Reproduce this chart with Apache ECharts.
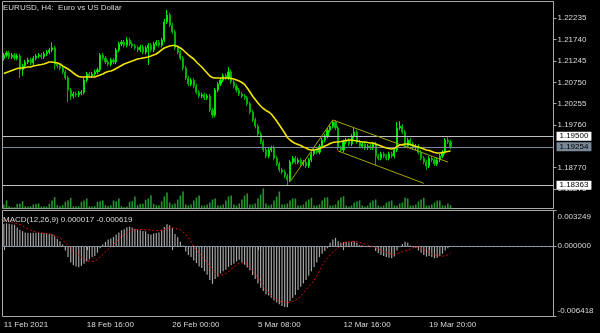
<!DOCTYPE html>
<html><head><meta charset="utf-8">
<script src="https://cdn.jsdelivr.net/npm/echarts@6/dist/echarts.min.js"></script>
<style>html,body{margin:0;padding:0;background:#000;}#c{width:600px;height:333px;}</style>
</head><body><div id="c"></div>
<script>
const symbolTitle = 'EURUSD, H4:  Euro vs US Dollar';
const macdTitle = 'MACD(12,26,9) 0.000017 -0.000619';
const xTickIndex = [0, 31, 63, 95, 127, 159];
const xTickLabels = ['11 Feb 2021', '18 Feb 16:00', '26 Feb 00:00', '5 Mar 08:00', '12 Mar 16:00', '19 Mar 20:00'];
const priceTicks = [1.18275, 1.18770, 1.19760, 1.20255, 1.20750, 1.21245, 1.21740, 1.22235];
const macdTicks = [-0.006418, 0, 0.003249];
const hLines = [1.19500, 1.18363];
const bidPrice = 1.19254;
const trendLines = [[107, 1.18445, 123, 1.19876], [123, 1.19876, 166, 1.18902], [125, 1.19157, 157, 1.18408]];

const opens = [
1.2130,1.2138,1.2143,1.2134,1.2138,1.2131,1.2136,1.2104,1.2113,1.2122,
1.2127,1.2120,1.2131,1.2136,1.2138,1.2134,1.2141,1.2145,1.2150,1.2155,
1.2117,1.2113,1.2108,1.2099,1.2085,1.2057,1.2043,1.2048,1.2046,1.2050,
1.2052,1.2080,1.2094,1.2090,1.2094,1.2099,1.2104,1.2138,1.2131,1.2122,
1.2117,1.2127,1.2122,1.2150,1.2164,1.2168,1.2161,1.2173,1.2164,1.2159,
1.2155,1.2150,1.2157,1.2145,1.2155,1.2161,1.2150,1.2164,1.2168,1.2161,
1.2173,1.2215,1.2231,1.2208,1.2192,1.2155,1.2145,1.2131,1.2108,1.2085,
1.2071,1.2080,1.2066,1.2052,1.2043,1.2046,1.2039,1.2043,1.2011,1.1999,
1.2057,1.2071,1.2080,1.2090,1.2085,1.2099,1.2076,1.2066,1.2057,1.2048,
1.2043,1.2039,1.2025,1.2006,1.1988,1.1973,1.1955,1.1937,1.1918,1.1904,
1.1918,1.1923,1.1899,1.1886,1.1872,1.1867,1.1858,1.1849,1.1890,1.1899,
1.1890,1.1895,1.1886,1.1890,1.1881,1.1895,1.1909,1.1918,1.1913,1.1927,
1.1941,1.1950,1.1964,1.1973,1.1983,1.1969,1.1923,1.1918,1.1937,1.1941,
1.1932,1.1950,1.1960,1.1937,1.1927,1.1932,1.1923,1.1927,1.1923,1.1932,
1.1904,1.1899,1.1909,1.1904,1.1899,1.1909,1.1904,1.1918,1.1969,1.1973,
1.1960,1.1927,1.1941,1.1932,1.1923,1.1927,1.1913,1.1899,1.1890,1.1881,
1.1899,1.1895,1.1886,1.1895,1.1904,1.1913,1.1941,1.1937];
const closes = [
1.2138,1.2143,1.2134,1.2138,1.2131,1.2136,1.2104,1.2113,1.2122,1.2127,
1.2120,1.2131,1.2136,1.2138,1.2134,1.2141,1.2145,1.2150,1.2155,1.2117,
1.2113,1.2108,1.2099,1.2085,1.2057,1.2043,1.2048,1.2046,1.2050,1.2052,
1.2080,1.2094,1.2090,1.2094,1.2099,1.2104,1.2138,1.2131,1.2122,1.2117,
1.2127,1.2122,1.2150,1.2164,1.2168,1.2161,1.2173,1.2164,1.2159,1.2155,
1.2150,1.2157,1.2145,1.2155,1.2161,1.2150,1.2164,1.2168,1.2161,1.2173,
1.2215,1.2231,1.2208,1.2192,1.2155,1.2145,1.2131,1.2108,1.2085,1.2071,
1.2080,1.2066,1.2052,1.2043,1.2046,1.2039,1.2043,1.2011,1.1999,1.2057,
1.2071,1.2080,1.2090,1.2085,1.2099,1.2076,1.2066,1.2057,1.2048,1.2043,
1.2039,1.2025,1.2006,1.1988,1.1973,1.1955,1.1937,1.1918,1.1904,1.1918,
1.1923,1.1899,1.1886,1.1872,1.1867,1.1858,1.1849,1.1890,1.1899,1.1890,
1.1895,1.1886,1.1890,1.1881,1.1895,1.1909,1.1918,1.1913,1.1927,1.1941,
1.1950,1.1964,1.1973,1.1983,1.1969,1.1923,1.1918,1.1937,1.1941,1.1932,
1.1950,1.1960,1.1937,1.1927,1.1932,1.1923,1.1927,1.1923,1.1932,1.1904,
1.1899,1.1909,1.1904,1.1899,1.1909,1.1904,1.1918,1.1969,1.1973,1.1960,
1.1927,1.1941,1.1932,1.1923,1.1927,1.1913,1.1899,1.1890,1.1881,1.1899,
1.1895,1.1886,1.1895,1.1904,1.1913,1.1941,1.1937,1.19254];
const lows = [
1.2125,1.2133,1.2129,1.2129,1.2126,1.2126,1.2085,1.2090,1.2108,1.2117,
1.2115,1.2115,1.2126,1.2131,1.2129,1.2129,1.2136,1.2140,1.2145,1.2104,
1.2108,1.2103,1.2094,1.2080,1.2029,1.2034,1.2038,1.2041,1.2041,1.2045,
1.2047,1.2075,1.2085,1.2085,1.2089,1.2094,1.2099,1.2126,1.2117,1.2112,
1.2112,1.2117,1.2117,1.2145,1.2159,1.2156,1.2156,1.2159,1.2154,1.2150,
1.2145,1.2145,1.2140,1.2140,1.2115,1.2145,1.2145,1.2159,1.2156,1.2156,
1.2168,1.2210,1.2203,1.2187,1.2150,1.2140,1.2126,1.2103,1.2080,1.2066,
1.2066,1.2061,1.2047,1.2038,1.2038,1.2034,1.2034,1.2006,1.1992,1.1994,
1.2052,1.2066,1.2075,1.2080,1.2080,1.2071,1.2061,1.2052,1.2043,1.2038,
1.2034,1.2020,1.2001,1.1983,1.1968,1.1950,1.1932,1.1913,1.1899,1.1899,
1.1913,1.1894,1.1881,1.1867,1.1862,1.1853,1.1836,1.1844,1.1885,1.1885,
1.1885,1.1881,1.1881,1.1876,1.1876,1.1890,1.1904,1.1908,1.1908,1.1922,
1.1936,1.1945,1.1959,1.1968,1.1964,1.1918,1.1913,1.1913,1.1932,1.1927,
1.1927,1.1945,1.1932,1.1922,1.1922,1.1918,1.1918,1.1918,1.1918,1.1883,
1.1894,1.1894,1.1899,1.1894,1.1894,1.1899,1.1899,1.1913,1.1964,1.1955,
1.1922,1.1922,1.1927,1.1918,1.1918,1.1908,1.1894,1.1885,1.1872,1.1876,
1.1890,1.1881,1.1881,1.1890,1.1899,1.1908,1.1932,1.1920];
const highs = [
1.2143,1.2148,1.2148,1.2143,1.2143,1.2141,1.2141,1.2118,1.2127,1.2132,
1.2132,1.2136,1.2141,1.2143,1.2143,1.2146,1.2150,1.2155,1.2168,1.2160,
1.2122,1.2118,1.2113,1.2104,1.2090,1.2062,1.2053,1.2053,1.2055,1.2057,
1.2085,1.2099,1.2099,1.2099,1.2104,1.2109,1.2143,1.2143,1.2136,1.2127,
1.2132,1.2132,1.2155,1.2169,1.2173,1.2173,1.2180,1.2178,1.2169,1.2164,
1.2160,1.2162,1.2162,1.2160,1.2166,1.2166,1.2169,1.2173,1.2173,1.2178,
1.2222,1.2243,1.2236,1.2213,1.2197,1.2160,1.2150,1.2136,1.2113,1.2090,
1.2085,1.2085,1.2071,1.2057,1.2051,1.2051,1.2048,1.2048,1.2016,1.2062,
1.2076,1.2085,1.2095,1.2095,1.2110,1.2104,1.2081,1.2071,1.2062,1.2053,
1.2048,1.2044,1.2030,1.2011,1.1993,1.1978,1.1960,1.1942,1.1923,1.1923,
1.1928,1.1928,1.1904,1.1891,1.1877,1.1872,1.1863,1.1895,1.1904,1.1904,
1.1900,1.1900,1.1895,1.1895,1.1900,1.1914,1.1923,1.1923,1.1932,1.1946,
1.1955,1.1969,1.1978,1.1988,1.1987,1.1974,1.1928,1.1942,1.1946,1.1946,
1.1955,1.1969,1.1965,1.1942,1.1937,1.1937,1.1932,1.1932,1.1937,1.1937,
1.1909,1.1914,1.1914,1.1909,1.1914,1.1914,1.1923,1.1983,1.1985,1.1978,
1.1965,1.1946,1.1946,1.1937,1.1932,1.1932,1.1918,1.1904,1.1895,1.1904,
1.1904,1.1900,1.1900,1.1909,1.1918,1.1946,1.1948,1.1942];
const maValues = [
1.20955,1.20978,1.21001,1.21024,1.21047,1.21071,1.21082,1.21082,1.21094,1.21105,
1.21105,1.21129,1.21140,1.21152,1.21163,1.21175,1.21198,1.21221,1.21221,1.21210,
1.21198,1.21175,1.21129,1.21094,1.21059,1.21013,1.20966,1.20920,1.20885,1.20873,
1.20873,1.20873,1.20873,1.20873,1.20873,1.20897,1.20920,1.20943,1.20978,1.21001,
1.21013,1.21036,1.21071,1.21105,1.21140,1.21175,1.21198,1.21221,1.21244,1.21268,
1.21291,1.21302,1.21314,1.21326,1.21337,1.21360,1.21384,1.21407,1.21453,1.21500,
1.21546,1.21569,1.21592,1.21604,1.21604,1.21581,1.21546,1.21500,1.21442,1.21384,
1.21337,1.21291,1.21221,1.21163,1.21105,1.21036,1.20966,1.20897,1.20862,1.20850,
1.20850,1.20850,1.20850,1.20850,1.20850,1.20839,1.20827,1.20804,1.20781,1.20746,
1.20700,1.20618,1.20526,1.20433,1.20352,1.20270,1.20201,1.20143,1.20097,1.20062,
1.20015,1.19934,1.19853,1.19760,1.19668,1.19575,1.19470,1.19412,1.19366,1.19331,
1.19308,1.19285,1.19250,1.19227,1.19192,1.19181,1.19181,1.19192,1.19215,1.19239,
1.19273,1.19296,1.19331,1.19354,1.19366,1.19366,1.19377,1.19389,1.19401,1.19412,
1.19412,1.19401,1.19389,1.19377,1.19366,1.19366,1.19354,1.19343,1.19343,1.19320,
1.19296,1.19273,1.19250,1.19227,1.19215,1.19204,1.19215,1.19262,1.19296,1.19308,
1.19320,1.19320,1.19308,1.19285,1.19262,1.19250,1.19227,1.19204,1.19181,1.19169,
1.19146,1.19123,1.19111,1.19111,1.19123,1.19134,1.19146,1.19157];
const volumes = [
4000,8000,2300,
1300,1300,4700,4700,7300,2300,
2000,2300,4000,4500,5000,2000,
2300,2000,4700,8000,11300,3300,
2300,3300,6700,8000,10700,2300,
2300,2300,6700,8000,10000,2300,
2000,2300,6700,7300,8000,3300,
2300,3300,8000,7300,10000,2300,
1300,2000,6700,7300,12000,3300,
4700,4700,8700,10000,13300,4700,
3300,3300,7000,12000,16000,6000,
4000,5000,9000,13000,17000,4000,
3000,4000,8000,11000,13000,3000,
3000,4000,6000,9000,10000,3000,
3000,4000,8000,12000,13000,4000,
3000,5000,9000,13000,15000,4000,
4000,5000,10000,14000,20000,5000,
3000,4000,8000,12000,17000,4000,
4000,5000,8000,10000,10000,3000,
3000,4000,7000,9000,10700,3000,
3000,4000,8000,10700,11300,3000,
3000,4000,8000,11000,12300,3000,
2000,3000,6000,7000,8000,3000,
2000,3000,6000,8000,9000,3000,
2000,3000,6000,7000,8000,3000,
3000,5000,6000,10700,10000,3000,
3000,4000,7000,9000,10700,3000,
3000,4000,6000,8000,8000,3000,
3000,5000,3300];
const macdMain = [
0.00205,0.00208,0.00203,0.00200,0.00195,0.00170,0.00150,0.00136,0.00125,0.00122,
0.00120,0.00121,0.00123,0.00121,0.00120,0.00119,0.00118,0.00110,0.00108,0.00090,
0.00065,0.00045,0.00015,-0.00040,-0.00100,-0.00150,-0.00175,-0.00185,-0.00192,-0.00180,
-0.00160,-0.00140,-0.00120,-0.00100,-0.00090,-0.00060,-0.00020,0.00015,0.00040,0.00060,
0.00070,0.00085,0.00105,0.00125,0.00145,0.00155,0.00172,0.00176,0.00170,0.00158,
0.00150,0.00145,0.00138,0.00136,0.00110,0.00105,0.00115,0.00120,0.00125,0.00150,
0.00175,0.00200,0.00190,0.00165,0.00110,0.00080,0.00040,0.00005,-0.00050,-0.00080,
-0.00100,-0.00130,-0.00155,-0.00185,-0.00200,-0.00230,-0.00260,-0.00310,-0.00344,-0.00300,
-0.00280,-0.00250,-0.00230,-0.00215,-0.00190,-0.00175,-0.00160,-0.00140,-0.00125,-0.00150,
-0.00170,-0.00195,-0.00220,-0.00265,-0.00300,-0.00340,-0.00380,-0.00410,-0.00440,-0.00450,
-0.00470,-0.00495,-0.00515,-0.00530,-0.00545,-0.00555,-0.00557,-0.00500,-0.00470,-0.00445,
-0.00400,-0.00370,-0.00340,-0.00310,-0.00270,-0.00230,-0.00190,-0.00150,-0.00100,-0.00070,
-0.00045,-0.00020,0.00030,0.00060,0.00075,0.00045,0.00030,0.00035,0.00040,0.00035,
0.00040,0.00045,0.00030,0.00010,0.00005,-0.00005,0.00000,-0.00010,-0.00005,-0.00045,
-0.00065,-0.00080,-0.00090,-0.00100,-0.00105,-0.00110,-0.00095,-0.00040,-0.00010,0.00020,
0.00040,0.00030,0.00005,-0.00010,-0.00015,-0.00040,-0.00060,-0.00080,-0.00095,-0.00090,
-0.00100,-0.00110,-0.00105,-0.00090,-0.00070,-0.00040,-0.00020,0.000017];
const macdSignal = [
0.00240,0.00233,0.00225,0.00218,0.00210,0.00203,0.00197,0.00185,0.00170,0.00157,
0.00145,0.00136,0.00130,0.00125,0.00121,0.00117,0.00114,0.00112,0.00106,0.00096,
0.00085,0.00076,0.00055,0.00030,0.00005,-0.00020,-0.00045,-0.00065,-0.00085,-0.00100,
-0.00118,-0.00132,-0.00138,-0.00140,-0.00138,-0.00120,-0.00095,-0.00075,-0.00052,-0.00030,
-0.00010,0.00015,0.00040,0.00065,0.00085,0.00105,0.00120,0.00135,0.00145,0.00152,
0.00153,0.00152,0.00151,0.00151,0.00150,0.00146,0.00143,0.00142,0.00142,0.00144,
0.00152,0.00162,0.00167,0.00166,0.00162,0.00157,0.00151,0.00130,0.00105,0.00075,
0.00040,0.00000,-0.00035,-0.00065,-0.00090,-0.00120,-0.00150,-0.00180,-0.00215,-0.00250,
-0.00272,-0.00268,-0.00258,-0.00248,-0.00235,-0.00210,-0.00190,-0.00170,-0.00157,-0.00152,
-0.00155,-0.00170,-0.00195,-0.00222,-0.00255,-0.00290,-0.00330,-0.00362,-0.00395,-0.00425,
-0.00450,-0.00472,-0.00488,-0.00500,-0.00508,-0.00512,-0.00513,-0.00510,-0.00504,-0.00495,
-0.00478,-0.00458,-0.00430,-0.00400,-0.00370,-0.00342,-0.00312,-0.00270,-0.00225,-0.00178,
-0.00140,-0.00110,-0.00083,-0.00055,-0.00035,-0.00015,0.00005,0.00028,0.00035,0.00040,
0.00044,0.00045,0.00040,0.00033,0.00025,0.00018,0.00010,0.00002,-0.00008,-0.00015,
-0.00025,-0.00035,-0.00047,-0.00058,-0.00066,-0.00073,-0.00077,-0.00070,-0.00060,-0.00050,
-0.00045,-0.00035,-0.00025,-0.00015,-0.00008,-0.00010,-0.00018,-0.00031,-0.00045,-0.00058,
-0.00072,-0.00080,-0.00085,-0.00090,-0.00092,-0.00088,-0.00078,-0.000619];

const slotCount = 206;
const categories = [];
for (let i = 0; i < slotCount; i++) categories.push('');
xTickIndex.forEach((idx, k) => { categories[idx] = xTickLabels[k]; });
const tickSet = new Set(xTickIndex);
const candleData = opens.map((o, i) => [o, closes[i], lows[i], highs[i]]);

const FONT = 'Liberation Sans';
const TXT = '#d8d8d8';
const FRAME = '#a8a8a8';

const chart = echarts.init(document.getElementById('c'), null, {renderer: 'canvas'});

const hLineItems = hLines.map(v => ({
  yAxis: v,
  lineStyle: {color: '#c0c0c0', width: 1, type: 'solid'},
  label: {show: true, position: 'end', distance: 3, formatter: v.toFixed(5),
    backgroundColor: '#ffffff', color: '#000000', padding: [1, 3, 0, 3],
    fontSize: 8, fontFamily: FONT}
}));
const bidItem = {
  yAxis: bidPrice,
  lineStyle: {color: '#778899', width: 1, type: 'solid'},
  label: {show: true, position: 'end', distance: 3, formatter: bidPrice.toFixed(5),
    backgroundColor: '#778899', color: '#000000', padding: [1, 3, 0, 3],
    fontSize: 8, fontFamily: FONT}
};
const trendItems = trendLines.map(t => [
  {coord: [t[0], t[1]], lineStyle: {color: '#a6a600', width: 1, type: 'solid'}, label: {show: false}},
  {coord: [t[2], t[3]]}
]);

chart.setOption({
  backgroundColor: '#000000',
  animation: false,
  title: [
    {text: symbolTitle, left: 3, top: 3, padding: 0,
      textStyle: {color: TXT, fontSize: 8, fontWeight: 'normal', fontFamily: FONT, lineHeight: 9}},
    {text: macdTitle, left: 3, top: 215, padding: 0,
      textStyle: {color: TXT, fontSize: 8, fontWeight: 'normal', fontFamily: FONT, lineHeight: 9}}
  ],
  grid: [
    {left: 2.5, top: 1.5, width: 551, height: 207, show: true, borderColor: FRAME, borderWidth: 1, backgroundColor: 'transparent'},
    {left: 2.5, top: 187.5, width: 551, height: 21, show: false},
    {left: 2.5, top: 210.5, width: 551, height: 106, show: true, borderColor: FRAME, borderWidth: 1, backgroundColor: 'transparent'}
  ],
  xAxis: [
    {gridIndex: 0, type: 'category', data: categories, boundaryGap: true, show: false},
    {gridIndex: 1, type: 'category', data: categories, boundaryGap: true, show: false},
    {gridIndex: 2, type: 'category', data: categories, boundaryGap: true,
      axisLine: {show: true, lineStyle: {color: FRAME}},
      axisTick: {show: true, alignWithLabel: true, interval: (i) => tickSet.has(i), length: 4, lineStyle: {color: FRAME}},
      axisLabel: {show: true, interval: (i) => tickSet.has(i), align: 'left', margin: 4,
        color: TXT, fontSize: 8, fontFamily: FONT},
      splitLine: {show: false}}
  ],
  yAxis: [
    {gridIndex: 0, type: 'value', position: 'right', min: 1.17824, max: 1.22624,
      axisLine: {show: true, lineStyle: {color: FRAME}},
      axisTick: {show: true, customValues: priceTicks, length: 3, lineStyle: {color: FRAME}},
      axisLabel: {customValues: priceTicks, formatter: (v) => v.toFixed(5), color: TXT,
        fontSize: 8, fontFamily: FONT, margin: 4},
      splitLine: {show: false}},
    {gridIndex: 1, type: 'value', min: 0, max: 21000, show: false, splitLine: {show: false}},
    {gridIndex: 2, type: 'value', position: 'right', min: -0.006418, max: 0.003249,
      axisLine: {show: true, lineStyle: {color: FRAME}},
      axisTick: {show: true, customValues: macdTicks, length: 3, lineStyle: {color: FRAME}},
      axisLabel: {customValues: macdTicks, formatter: (v) => v.toFixed(6), color: TXT,
        fontSize: 8, fontFamily: FONT, margin: 4, lineHeight: 12,
        verticalAlignMaxLabel: 'top', verticalAlignMinLabel: 'bottom'},
      splitLine: {show: false}}
  ],
  series: [
    {name: 'Volume', type: 'bar', xAxisIndex: 1, yAxisIndex: 1, data: volumes,
      barWidth: 1.6, itemStyle: {color: '#22962a'}, silent: true, z: 1},
    {name: 'EURUSD', type: 'candlestick', xAxisIndex: 0, yAxisIndex: 0, data: candleData,
      barWidth: 1.6, z: 3,
      itemStyle: {color: '#00ff00', color0: '#00c400', borderColor: '#00e600', borderColor0: '#00b000', borderWidth: 1},
      markLine: {silent: true, symbol: ['none', 'none'], precision: 6, animation: false, z: 4,
        data: [...hLineItems, bidItem, ...trendItems]}},
    {name: 'MA', type: 'line', xAxisIndex: 0, yAxisIndex: 0, data: maValues,
      showSymbol: false, symbol: 'none', z: 5, lineStyle: {color: '#f0e400', width: 1.6}},
    {name: 'MACD', type: 'bar', xAxisIndex: 2, yAxisIndex: 2, data: macdMain,
      barWidth: 1.2, itemStyle: {color: '#a4a4a4'}, z: 2,
      markLine: {silent: true, symbol: ['none', 'none'], label: {show: false},
        lineStyle: {color: '#6f8296', width: 1, type: [2, 2]}, data: [{yAxis: 0}]}},
    {name: 'Signal', type: 'line', xAxisIndex: 2, yAxisIndex: 2, data: macdSignal,
      showSymbol: false, symbol: 'none', z: 3, lineStyle: {color: '#e01010', width: 1, type: [2, 2]}}
  ]
});
</script></body></html>
